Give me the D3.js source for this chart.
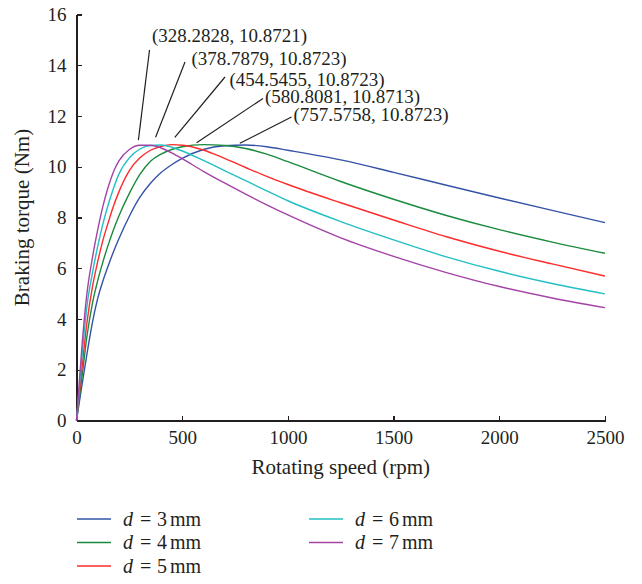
<!DOCTYPE html>
<html>
<head>
<meta charset="utf-8">
<script src="https://cdn.jsdelivr.net/npm/d3@7"></script>
<style>
    body { margin: 0; background: #fff; }
    svg text { font-family: "Liberation Serif", "DejaVu Serif", serif; fill: #231f20; }
    .axis path, .axis line { stroke: #231f20; stroke-width: 1.3px; shape-rendering: crispEdges; }
    .curve { fill: none; stroke-width: 1.4px; }
    .leader { stroke: #231f20; stroke-width: 1.2px; }
</style>
</head>
<body>
<div id="chart"></div>
<script>
    // rotating speed (rpm) at which the torque was read
    var speed = [0, 25, 50, 75, 100, 125, 150, 175, 200, 250, 300, 350, 400, 450, 500,
        600, 700, 800, 900, 1000, 1250, 1500, 1750, 2000, 2250, 2500];

    // braking torque (Nm) for each thickness d
    var torque3 = [0, 1.35, 2.65, 3.85, 4.8, 5.5, 6.1, 6.65, 7.15, 8.05, 8.8, 9.35, 9.77, 10.08, 10.33,
        10.68, 10.83, 10.86, 10.79, 10.65, 10.27, 9.78, 9.27, 8.77, 8.28, 7.8];
    var torque4 = [0, 1.65, 3.35, 4.6, 5.5, 6.25, 6.92, 7.52, 8.05, 8.95, 9.7, 10.22, 10.5, 10.68, 10.79,
        10.87, 10.84, 10.72, 10.5, 10.2, 9.42, 8.72, 8.08, 7.52, 7.03, 6.59];
    var torque5 = [0, 2.0, 3.9, 5.25, 6.25, 7.1, 7.8, 8.45, 9.0, 9.85, 10.35, 10.65, 10.8, 10.87, 10.85,
        10.66, 10.33, 9.97, 9.62, 9.3, 8.58, 7.9, 7.24, 6.67, 6.17, 5.69];
    var torque6 = [0, 2.45, 4.55, 5.8, 6.85, 7.75, 8.5, 9.15, 9.7, 10.35, 10.7, 10.84, 10.86, 10.77, 10.62,
        10.25, 9.85, 9.45, 9.05, 8.66, 7.84, 7.12, 6.45, 5.88, 5.4, 4.99];
    var torque7 = [0, 2.85, 5.05, 6.4, 7.5, 8.45, 9.2, 9.8, 10.22, 10.68, 10.85, 10.85, 10.74, 10.55, 10.32,
        9.82, 9.36, 8.92, 8.5, 8.1, 7.2, 6.47, 5.83, 5.28, 4.83, 4.45];

    var thickness = [3, 4, 5, 6, 7];
    var colors = ["#3553a6", "#1b8a3e", "#fe2b2b", "#22bfc4", "#a343a6"];

    // maxima, listed from the top label down
    var peakSpeed = [328.2828, 378.7879, 454.5455, 580.8081, 757.5758];
    var peakTorque = [10.8721, 10.8723, 10.8723, 10.8713, 10.8723];

    var xTicks = [0, 500, 1000, 1500, 2000, 2500];
    var yTicks = [0, 2, 4, 6, 8, 10, 12, 14, 16];

    var series = [torque3, torque4, torque5, torque6, torque7];

    var width = 642, height = 584;
    var margin = { top: 14.5, right: 37, bottom: 163.5, left: 76.5 };

    var svg = d3.select("#chart")
        .append("svg")
        .attr("width", width)
        .attr("height", height);

    var x = d3.scaleLinear().domain([0, 2500]).range([margin.left, width - margin.right]);
    var y = d3.scaleLinear().domain([0, 16]).range([height - margin.bottom, margin.top]);

    // axes, ticks pointing into the plot
    var xAxis = svg.append("g")
        .attr("class", "axis")
        .attr("transform", "translate(0," + y(0) + ")")
        .call(d3.axisBottom(x).tickValues(xTicks).tickFormat(d3.format("d"))
            .tickSizeInner(-5).tickSizeOuter(0).tickPadding(10));
    xAxis.selectAll("text").style("font-size", "19px").attr("fill", "#231f20");

    var yAxis = svg.append("g")
        .attr("class", "axis")
        .attr("transform", "translate(" + x(0) + ",0)")
        .call(d3.axisLeft(y).tickValues(yTicks).tickFormat(d3.format("d"))
            .tickSizeInner(-5).tickSizeOuter(0).tickPadding(10));
    yAxis.selectAll("text").style("font-size", "19px").attr("fill", "#231f20");

    svg.append("text")
        .attr("x", (x(0) + x(2500)) / 2)
        .attr("y", 474)
        .attr("text-anchor", "middle")
        .style("font-size", "21px")
        .text("Rotating speed (rpm)");

    svg.append("text")
        .attr("transform", "translate(29," + (y(0) + y(16)) / 2 + ") rotate(-90)")
        .attr("text-anchor", "middle")
        .style("font-size", "21px")
        .text("Braking torque (Nm)");

    // curves
    var line = d3.line()
        .x(function (d, i) { return x(speed[i]); })
        .y(function (d) { return y(d); })
        .curve(d3.curveMonotoneX);

    svg.selectAll("path.curve")
        .data(series)
        .enter()
        .append("path")
        .attr("class", "curve")
        .attr("stroke", function (d, i) { return colors[i]; })
        .attr("d", line);

    // peak labels
    var labelPos = [[152, 41.5], [191.5, 65], [229.5, 85.5], [265, 102.5], [293.5, 120.5]];
    var leaderTop = [[149.5, 50], [185, 62], [225, 77], [263, 98.5], [291.5, 117]];
    var leaderDx = [-7.5, -1, 2.2, -2.7, 3.2];
    var leaderDy = [-4.5, -7.3, -7.3, -2, -1.3];

    peakSpeed.forEach(function (p, i) {
        svg.append("line")
            .attr("class", "leader")
            .attr("x1", leaderTop[i][0])
            .attr("y1", leaderTop[i][1])
            .attr("x2", x(p) + leaderDx[i])
            .attr("y2", y(peakTorque[i]) + leaderDy[i]);
        svg.append("text")
            .attr("x", labelPos[i][0])
            .attr("y", labelPos[i][1])
            .style("font-size", "19px")
            .text("(" + p.toFixed(4) + ", " + peakTorque[i].toFixed(4) + ")");
    });

    // legend
    var legendPos = [[77, 519], [77, 542.5], [77, 566], [309, 519], [309, 542.5]];
    thickness.forEach(function (t, i) {
        var g = svg.append("g").attr("transform", "translate(" + legendPos[i][0] + "," + legendPos[i][1] + ")");
        g.append("line")
            .attr("x1", 0).attr("x2", 34)
            .attr("y1", 0).attr("y2", 0)
            .attr("stroke", colors[i])
            .attr("stroke-width", 1.4);
        var label = g.append("text")
            .attr("y", 6.5)
            .style("font-size", "20px");
        label.append("tspan").attr("x", 46).style("font-style", "italic").text("d");
        label.append("tspan").attr("x", 63).text("=");
        label.append("tspan").attr("x", 80).text(t);
        label.append("tspan").attr("x", 93).text("mm");
    });
</script>
</body>
</html>
